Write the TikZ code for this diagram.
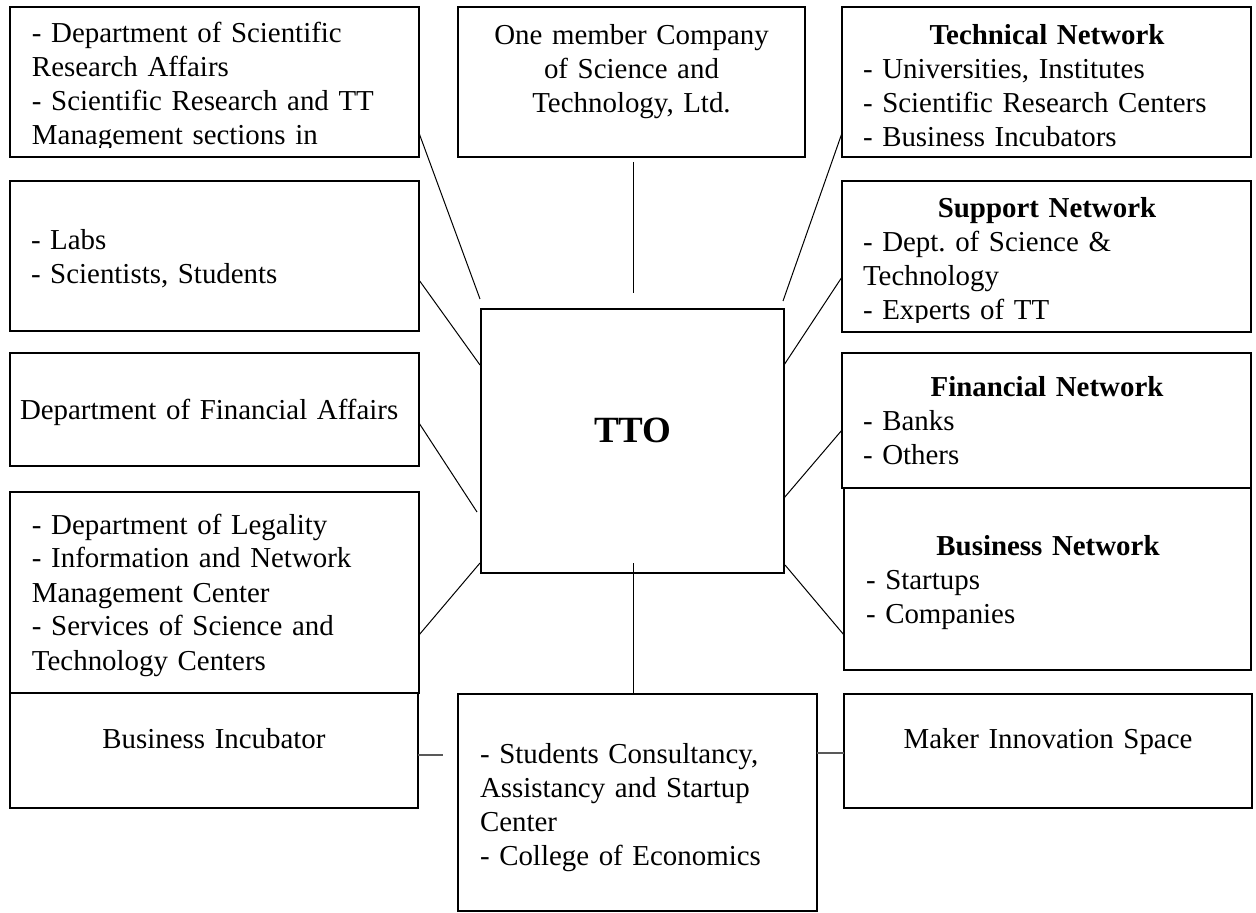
\documentclass[tikz,border=0pt]{standalone}
\usepackage{fontspec}
\setmainfont{Liberation Serif}
\usetikzlibrary{calc}
\frenchspacing
\tikzset{
  box/.style={draw=black, line width=1pt, rectangle, inner sep=0pt, outer sep=0pt},
  txt/.style={inner sep=0pt, outer sep=0pt, align=left, anchor=base west, font=\fontsize{14.45}{17}\selectfont},
  ctxt/.style={inner sep=0pt, outer sep=0pt, align=center, anchor=base, font=\fontsize{14.45}{17}\selectfont},
  link/.style={draw=black, line width=0.5pt},
  hlink/.style={draw=black!65, line width=0.9pt},
}
\newcommand\pbox[5]{\node[box, minimum width={(#4-#2)*0.5pt}, minimum height={(#5-#3)*0.5pt}] (#1) at ({(#2+#4)/2},{(#3+#5)/2}) {};}
\newcommand\hd[1]{\makebox[\linewidth]{\bfseries #1}}
\begin{document}
\begin{tikzpicture}[x=0.5pt, y=-0.5pt]
\useasboundingbox (0,0) rectangle (1256,913);
% boxes
\pbox{A}{10}{7}{419}{157}
\pbox{B}{10}{181}{419}{331}
\pbox{C}{10}{353}{419}{466}
\pbox{D}{10}{492}{419}{693}
\pbox{E}{10}{693}{418}{808}
\pbox{M}{458}{7}{805}{157}
\pbox{T}{481}{309}{784}{573}
\pbox{F}{458}{694}{817}{911}
\pbox{R1}{842}{7}{1251}{157}
\pbox{R2}{842}{181}{1251}{332}
\pbox{R3}{842}{353}{1251}{488}
\pbox{R4}{844}{488}{1251}{670}
\pbox{R5}{844}{694}{1252}{808}
% texts
\begin{scope}
\clip (10,7) rectangle (419,148);
\node[txt, text width=190pt] (At) at (32,43) {- Department of Scientific\\Research Affairs\\- Scientific Research and TT\\Management sections in};
\end{scope}
\node[txt, text width=190pt] (Bt) at (31,250) {- Labs\\- Scientists, Students};
\node[txt, text width=198pt] (Ct) at (20,420) {Department of Financial Affairs};
\node[txt, text width=190pt] (Dt) at (32,534) {- Department of Legality\\- Information and Network\\Management Center\\- Services of Science and\\Technology Centers};
\node[ctxt, text width=200pt] (Et) at (214,748) {Business Incubator};
\node[ctxt, text width=170pt] (Mt) at (631.5,45) {One member Company\\of Science and\\Technology, Ltd.};
\node[inner sep=0pt, anchor=base, font=\fontsize{18.5}{22}\selectfont\bfseries] (Tt) at (633,443) {TTO};
\node[txt, text width=170pt] (Ft) at (480,763) {- Students Consultancy,\\Assistancy and Startup\\Center\\- College of Economics};
\node[txt, text width=184pt] (R1t) at (863,45) {\hd{Technical Network}\\- Universities, Institutes\\- Scientific Research Centers\\- Business Incubators};
\begin{scope}
\clip (842,181) rectangle (1251,323);
\node[txt, text width=184pt] (R2t) at (863,218) {\hd{Support Network}\\- Dept. of Science \&\\Technology\\- Experts of TT};
\end{scope}
\node[txt, text width=184pt] (R3t) at (863,397) {\hd{Financial Network}\\- Banks\\- Others};
\node[txt, text width=182pt] (R4t) at (866,555) {\hd{Business Network}\\- Startups\\- Companies};
\node[ctxt, text width=200pt] (R5t) at (1048,748) {Maker Innovation Space};
% connectors
\draw[link] ($(A.south east)+(0,-24)$) -- ($(T.north west)+(-1,-10)$);
\draw[link] ($(B.south east)+(0,-51)$) -- ($(T.north west)+(-1,56)$);
\draw[link] ($(C.south east)+(0,-43)$) -- ($(T.north west)+(-4,203)$);
\draw[link] ($(D.south east)+(0,-58)$) -- ($(T.south west)+(-1,-10)$);
\draw[link] ($(M.south)+(1.5,5)$) -- ($(T.north)+(0.5,-16)$);
\draw[link] ($(R1.south west)+(0,-24)$) -- ($(T.north east)+(-1,-8)$);
\draw[link] ($(R2.south west)+(0,-55)$) -- ($(T.north east)+(0,56)$);
\draw[link] ($(R3.south west)+(0,-58)$) -- ($(T.north east)+(0,189)$);
\draw[link] ($(R4.south west)+(0,-35)$) -- ($(T.south east)+(1,-8)$);
\draw[link] ($(T.south)+(0.5,-10)$) -- ($(F.north)+(-4.5,0)$);
\draw[hlink] ($(E.east)+(0,4.5)$) -- ($(E.east)+(25,4.5)$);
\draw[hlink] ($(F.north east)+(0,59)$) -- ($(R5.west)+(0,2)$);
\end{tikzpicture}
\end{document}
